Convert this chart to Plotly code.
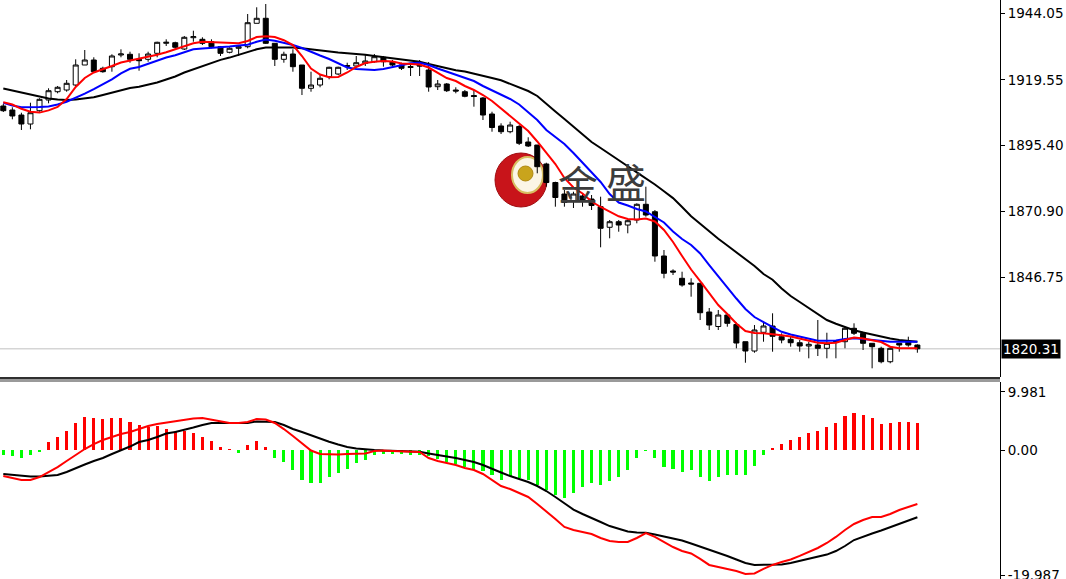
import plotly.graph_objects as go

# ---------------- data ----------------
bars = list(range(102))

opens = [
    1909.92, 1908.44, 1906.59, 1903.27, 1908.18, 1912.13, 1915.19, 1915.82, 1917.66, 1925.04,
    1926.89, 1923.83, 1924.42, 1928.73, 1928.99, 1927.15, 1927.15, 1929.36, 1933.05, 1933.27,
    1930.95, 1935.12, 1934.53, 1933.64, 1931.80, 1929.73, 1931.21, 1931.80, 1940.43, 1942.28,
    1933.05, 1927.15, 1929.10, 1925.04, 1916.45, 1917.66, 1920.73, 1921.72, 1924.49, 1924.68,
    1925.67, 1926.26, 1927.89, 1926.26, 1925.04, 1924.49, 1925.04, 1923.20, 1917.04, 1918.03,
    1915.82, 1915.19, 1913.79, 1912.87, 1906.96, 1902.54, 1900.43, 1902.35, 1896.63, 1895.52,
    1888.51, 1881.69, 1877.44, 1874.86, 1876.71, 1875.60, 1872.76, 1865.16, 1867.22, 1866.00,
    1867.85, 1873.64, 1870.91, 1854.57, 1849.03, 1846.34, 1844.60, 1844.49, 1833.90, 1828.55,
    1832.79, 1829.29, 1822.94, 1819.51, 1826.41, 1828.74, 1824.79, 1823.83, 1822.57, 1821.36,
    1821.72, 1820.51, 1822.65, 1822.94, 1827.89, 1826.04, 1822.35, 1820.51, 1815.56, 1822.35,
    1822.94, 1821.72]

highs = [
    1910.65, 1909.44, 1907.44, 1911.13, 1912.76, 1916.45, 1917.30, 1919.51, 1927.15, 1930.58,
    1927.89, 1924.42, 1928.99, 1930.84, 1929.95, 1929.36, 1929.95, 1933.64, 1934.53, 1933.64,
    1935.75, 1937.70, 1935.27, 1934.53, 1932.06, 1931.58, 1932.06, 1943.86, 1946.34, 1947.55,
    1933.05, 1929.95, 1930.84, 1925.04, 1922.57, 1921.35, 1924.42, 1924.42, 1925.89, 1928.37,
    1928.73, 1929.10, 1928.37, 1926.89, 1925.89, 1925.04, 1926.89, 1926.15, 1919.51, 1918.40,
    1916.82, 1915.82, 1915.82, 1913.24, 1907.81, 1903.53, 1904.12, 1902.90, 1898.37, 1895.52,
    1888.99, 1881.98, 1878.92, 1878.29, 1877.70, 1877.07, 1876.45, 1867.85, 1867.85, 1867.85,
    1874.01, 1880.14, 1871.54, 1856.78, 1849.66, 1848.77, 1846.34, 1844.49, 1835.38, 1834.64,
    1833.42, 1830.03, 1822.94, 1829.10, 1830.32, 1833.42, 1826.04, 1824.79, 1823.57, 1822.94,
    1830.95, 1826.26, 1823.20, 1828.48, 1829.73, 1826.63, 1822.35, 1821.10, 1821.10, 1822.35,
    1824.79, 1821.98]

lows = [
    1907.70, 1905.01, 1901.06, 1901.32, 1907.81, 1910.91, 1914.60, 1915.19, 1917.30, 1925.04,
    1922.20, 1922.20, 1922.57, 1927.89, 1925.89, 1922.94, 1926.26, 1927.89, 1932.06, 1930.58,
    1930.58, 1933.64, 1932.42, 1931.21, 1928.37, 1929.36, 1928.37, 1931.21, 1940.43, 1932.79,
    1924.68, 1925.89, 1922.57, 1913.97, 1915.19, 1916.82, 1919.77, 1921.35, 1923.20, 1924.42,
    1924.68, 1925.89, 1924.42, 1924.42, 1923.20, 1920.99, 1920.99, 1915.19, 1915.82, 1915.08,
    1914.60, 1913.13, 1909.66, 1904.75, 1900.43, 1899.58, 1899.84, 1895.52, 1894.79, 1885.08,
    1880.14, 1872.76, 1872.76, 1872.28, 1872.76, 1871.54, 1857.78, 1861.10, 1863.53, 1862.94,
    1866.63, 1869.07, 1852.46, 1846.34, 1847.55, 1843.24, 1839.55, 1830.95, 1827.26, 1827.26,
    1828.48, 1820.51, 1815.19, 1818.88, 1822.94, 1819.25, 1822.35, 1821.10, 1819.25, 1816.82,
    1817.67, 1816.82, 1816.82, 1820.51, 1825.41, 1819.88, 1813.13, 1814.97, 1814.97, 1819.25,
    1821.10, 1818.88]

closes = [
    1908.18, 1906.23, 1903.27, 1907.44, 1912.39, 1915.56, 1916.82, 1918.29, 1925.04, 1926.89,
    1922.57, 1922.57, 1928.37, 1929.10, 1927.15, 1926.63, 1929.10, 1933.42, 1933.42, 1931.58,
    1935.27, 1935.49, 1933.05, 1931.80, 1929.36, 1931.21, 1931.80, 1940.65, 1942.28, 1933.05,
    1927.15, 1928.99, 1924.42, 1916.45, 1917.66, 1920.14, 1924.20, 1924.20, 1924.86, 1925.89,
    1926.52, 1928.11, 1926.26, 1925.04, 1923.83, 1924.12, 1924.68, 1916.93, 1918.03, 1915.56,
    1915.45, 1913.50, 1913.42, 1906.59, 1901.98, 1900.43, 1902.90, 1896.15, 1895.16, 1887.52,
    1881.69, 1876.15, 1874.31, 1877.44, 1875.23, 1873.20, 1864.79, 1867.22, 1866.00, 1867.59,
    1873.64, 1869.69, 1854.57, 1848.18, 1848.66, 1843.86, 1844.23, 1833.64, 1829.10, 1832.79,
    1829.73, 1822.46, 1819.51, 1827.26, 1828.74, 1824.94, 1823.57, 1822.57, 1821.36, 1821.98,
    1820.51, 1822.35, 1823.02, 1827.89, 1826.04, 1822.35, 1821.10, 1815.56, 1820.51, 1821.72,
    1821.72, 1820.31]

ma_red = [
    1911.32, 1910.47, 1908.88, 1907.78, 1907.48, 1908.29, 1909.55, 1912.50, 1916.93, 1920.25,
    1922.28, 1923.38, 1924.68, 1925.97, 1926.63, 1927.26, 1928.00, 1928.85, 1929.73, 1930.84,
    1932.17, 1933.05, 1933.61, 1933.46, 1933.20, 1933.05, 1933.05, 1933.90, 1935.38, 1935.64,
    1935.38, 1934.20, 1932.42, 1928.37, 1923.75, 1921.54, 1920.51, 1920.62, 1922.28, 1924.31,
    1925.78, 1926.26, 1926.52, 1926.34, 1925.60, 1925.41, 1925.23, 1924.12, 1922.28, 1920.25,
    1919.14, 1917.30, 1915.82, 1913.97, 1911.76, 1908.99, 1906.23, 1903.64, 1900.69, 1896.82,
    1892.57, 1888.51, 1883.35, 1879.84, 1877.63, 1874.68, 1872.65, 1870.80, 1869.22, 1868.22,
    1868.03, 1868.40, 1867.30, 1864.16, 1859.73, 1854.57, 1849.58, 1845.34, 1840.91, 1836.48,
    1833.16, 1829.66, 1826.89, 1826.15, 1826.04, 1825.78, 1825.30, 1824.86, 1824.12, 1823.39,
    1822.54, 1822.35, 1822.54, 1823.57, 1824.49, 1824.12, 1823.39, 1822.83, 1821.10, 1820.51,
    1820.51, 1820.51]

ma_blue = [
    1911.10, 1910.10, 1909.44, 1909.44, 1909.55, 1909.77, 1910.47, 1911.50, 1912.87, 1914.45,
    1916.15, 1917.89, 1919.73, 1921.98, 1923.64, 1924.31, 1925.56, 1926.71, 1927.81, 1928.66,
    1929.66, 1930.84, 1931.10, 1931.28, 1931.47, 1931.87, 1932.20, 1932.54, 1933.64, 1934.45,
    1934.01, 1933.35, 1932.46, 1931.32, 1929.84, 1928.55, 1927.26, 1925.67, 1924.12, 1923.57,
    1923.38, 1923.20, 1923.57, 1924.31, 1925.12, 1925.71, 1925.89, 1925.04, 1923.75, 1922.65,
    1921.54, 1920.43, 1919.14, 1917.30, 1915.64, 1913.97, 1912.50, 1910.47, 1907.70, 1904.75,
    1901.06, 1898.48, 1895.89, 1892.57, 1888.88, 1885.19, 1881.87, 1877.44, 1874.31, 1873.20,
    1871.91, 1870.99, 1868.96, 1866.93, 1863.61, 1860.84, 1858.62, 1855.49, 1851.24, 1847.00,
    1843.13, 1838.88, 1835.01, 1832.06, 1830.21, 1828.55, 1826.60, 1825.60, 1824.79, 1824.01,
    1823.31, 1823.31, 1823.39, 1823.94, 1824.20, 1823.94, 1823.57, 1823.09, 1822.94, 1822.94,
    1822.94, 1822.94]

ma_black = [
    1916.37, 1915.64, 1914.90, 1914.05, 1913.38, 1912.68, 1912.28, 1912.13, 1912.28, 1912.65,
    1913.13, 1913.97, 1914.79, 1915.64, 1916.56, 1917.00, 1917.74, 1918.59, 1919.69, 1920.80,
    1922.28, 1923.46, 1924.79, 1925.86, 1926.93, 1927.78, 1928.81, 1929.69, 1930.84, 1931.50,
    1931.58, 1931.58, 1931.50, 1931.21, 1930.76, 1930.32, 1929.99, 1929.66, 1929.40, 1929.18,
    1928.85, 1928.40, 1927.96, 1927.48, 1927.04, 1926.63, 1926.26, 1925.41, 1924.57, 1923.75,
    1923.13, 1922.65, 1921.91, 1921.17, 1920.25, 1919.40, 1918.03, 1916.93, 1915.45, 1913.61,
    1910.65, 1907.89, 1905.12, 1902.24, 1899.58, 1896.63, 1894.42, 1892.09, 1889.88, 1887.67,
    1885.45, 1883.24, 1880.95, 1878.48, 1875.93, 1872.65, 1869.25, 1866.48, 1863.64, 1860.95,
    1858.44, 1855.97, 1853.46, 1850.88, 1847.92, 1845.82, 1842.61, 1839.81, 1837.59, 1835.38,
    1833.16, 1830.95, 1829.58, 1828.29, 1827.19, 1826.34, 1825.53, 1824.71, 1824.16, 1823.61,
    1823.27, 1822.94]

macd_hist = [
    -0.80, -0.88, -1.24, -0.80, -0.27, 1.15, 2.03, 2.83, 4.15, 4.95,
    4.86, 4.69, 4.86, 4.86, 4.33, 3.80, 3.54, 3.62, 3.18, 2.92,
    2.83, 2.65, 2.03, 1.37, 0.53, 0.09, -0.44, 0.80, 1.41, 0.53,
    -1.15, -1.77, -3.01, -4.51, -4.95, -4.95, -4.07, -3.45, -2.83, -2.03,
    -1.50, -0.80, -0.62, -0.62, -0.62, -0.71, -0.71, -0.88, -1.41, -1.86,
    -2.12, -2.56, -3.01, -3.18, -3.80, -4.51, -3.98, -4.33, -4.60, -5.30,
    -6.10, -6.90, -7.25, -6.54, -5.57, -4.95, -5.30, -4.69, -4.07, -3.01,
    -1.15, -0.09, -1.15, -2.56, -2.83, -3.27, -3.01, -4.07, -4.69, -4.07,
    -3.80, -3.80, -3.80, -2.39, -0.80, 0.27, 0.97, 1.50, 2.03, 2.56,
    2.83, 3.54, 4.15, 5.22, 5.57, 5.30, 4.86, 3.98, 4.07, 4.33,
    4.33, 4.15]

macd_fast = [
    -3.96, -4.26, -4.56, -4.56, -4.11, -3.35, -2.59, -1.67, -0.76, 0.15,
    0.91, 1.52, 1.98, 2.43, 2.74, 3.19, 3.65, 3.96, 4.18, 4.41,
    4.64, 4.79, 4.87, 4.64, 4.34, 4.11, 4.11, 4.26, 4.72, 4.64,
    4.11, 3.19, 2.13, 1.06, -0.08, -0.61, -0.68, -0.68, -0.61, -0.61,
    -0.53, -0.15, -0.08, -0.15, -0.23, -0.23, -0.30, -1.22, -1.67, -1.98,
    -2.28, -2.74, -3.04, -3.65, -4.56, -5.48, -5.93, -6.54, -7.15, -8.21,
    -9.43, -10.50, -11.71, -12.17, -12.47, -12.78, -13.39, -13.84, -13.99, -13.99,
    -13.39, -12.63, -13.23, -13.99, -14.76, -15.36, -15.74, -16.58, -17.49, -17.80,
    -18.10, -18.41, -18.86, -18.79, -18.10, -17.49, -17.04, -16.66, -16.12, -15.52,
    -14.91, -14.15, -13.23, -12.17, -11.26, -10.65, -10.19, -10.19, -9.74, -9.13,
    -8.67, -8.21]

macd_signal = [
    -3.65, -3.81, -3.96, -4.03, -4.03, -3.96, -3.81, -3.35, -2.74, -2.21,
    -1.67, -1.22, -0.61, -0.08, 0.53, 1.22, 1.52, 1.98, 2.51, 2.74,
    3.04, 3.42, 3.81, 4.11, 4.11, 4.11, 4.11, 4.11, 4.34, 4.34,
    4.26, 3.81, 3.20, 2.74, 2.21, 1.67, 1.26, 0.84, 0.46, 0.23,
    0.08, 0.00, -0.08, -0.15, -0.20, -0.23, -0.26, -0.53, -0.76, -0.91,
    -1.22, -1.52, -1.83, -2.28, -2.89, -3.42, -3.96, -4.41, -4.87, -5.48,
    -6.24, -7.15, -8.14, -9.06, -9.74, -10.40, -10.96, -11.57, -12.02, -12.40,
    -12.56, -12.59, -12.86, -13.17, -13.47, -13.77, -14.23, -14.69, -15.14, -15.60,
    -16.13, -16.67, -17.20, -17.50, -17.50, -17.50, -17.43, -17.20, -16.89, -16.59,
    -16.29, -15.91, -15.37, -14.61, -13.70, -13.17, -12.71, -12.25, -11.72, -11.19,
    -10.73, -10.24]

price_ticks = [1944.05, 1919.55, 1895.40, 1870.90, 1846.75]
price_tick_labels = ["1944.05", "1919.55", "1895.40", "1870.90", "1846.75"]
last_price = 1820.31
last_price_label = "1820.31"
macd_tick_pos = [8.83, 0.0, -19.03]
macd_tick_labels = ["9.981", "0.00", "-19.987"]
watermark = ["金", "盛"]

# ---------------- figure ----------------
W, H = 1066, 579
PLOT_W = 1000
MAIN_BOTTOM_PX = 377
SUB_TOP_PX = 382


def py(p):
    return (H - p) / H


def px(p):
    return p / PLOT_W


fig = go.Figure()

fig.add_trace(go.Candlestick(
    x=bars, open=opens, high=highs, low=lows, close=closes,
    increasing=dict(line=dict(color="black", width=1), fillcolor="white"),
    decreasing=dict(line=dict(color="black", width=1), fillcolor="black"),
    whiskerwidth=0, hoverinfo="skip", xaxis="x", yaxis="y", showlegend=False,
))
for vals, col in ((ma_black, "#000000"), (ma_blue, "#0000ff"), (ma_red, "#ff0000")):
    fig.add_trace(go.Scatter(x=bars, y=vals, mode="lines",
                             line=dict(color=col, width=2), hoverinfo="skip",
                             xaxis="x", yaxis="y", showlegend=False))

fig.add_trace(go.Bar(
    x=bars, y=macd_hist, width=0.34,
    marker=dict(color=["#ff0000" if v >= 0 else "#00ff00" for v in macd_hist], line=dict(width=0)),
    hoverinfo="skip", xaxis="x", yaxis="y2", showlegend=False,
))
fig.add_trace(go.Scatter(x=bars, y=macd_signal, mode="lines", line=dict(color="black", width=2),
                         hoverinfo="skip", xaxis="x", yaxis="y2", showlegend=False))
fig.add_trace(go.Scatter(x=bars, y=macd_fast, mode="lines", line=dict(color="#ff0000", width=2),
                         hoverinfo="skip", xaxis="x", yaxis="y2", showlegend=False))

tickfont = dict(family="DejaVu Sans", size=13.5, color="black")

fig.update_layout(
    width=W, height=H,
    margin=dict(l=0, r=W - PLOT_W, t=0, b=0, autoexpand=False),
    paper_bgcolor="white", plot_bgcolor="white",
    showlegend=False, hovermode=False,
    boxgap=0.2, boxgroupgap=0.31,
    bargap=0,
    xaxis=dict(domain=[0, 1], range=[-0.365, 110.13], anchor="y2",
               showticklabels=False, showgrid=False, zeroline=False, showline=False,
               ticks="", rangeslider=dict(visible=False), fixedrange=True),
    yaxis=dict(domain=[py(MAIN_BOTTOM_PX), 1], range=[1809.92, 1949.03], anchor="x",
               side="right", tickvals=price_ticks, ticktext=price_tick_labels,
               ticks="outside", ticklen=4, tickcolor="black", tickfont=tickfont,
               showgrid=False, zeroline=False, showline=True, linecolor="black",
               linewidth=1, fixedrange=True, automargin=False, ticklabeloverflow="allow"),
    yaxis2=dict(domain=[0, py(SUB_TOP_PX)], range=[-19.63, 10.35], anchor="x",
                side="right", tickvals=macd_tick_pos, ticktext=macd_tick_labels,
                ticks="outside", ticklen=4, tickcolor="black", tickfont=tickfont,
                showgrid=False, zeroline=False, showline=True, linecolor="black",
                linewidth=1, fixedrange=True, automargin=False, ticklabeloverflow="allow"),
)

shapes = [
    # current price line
    dict(type="line", xref="paper", yref="y", x0=0, x1=1, y0=last_price, y1=last_price,
         line=dict(color="#c0c0c0", width=1), layer="below"),
    # separator between panes
    dict(type="rect", xref="paper", yref="paper", x0=0, x1=1,
         y0=py(SUB_TOP_PX), y1=py(MAIN_BOTTOM_PX),
         fillcolor="#9a9a9a", line=dict(width=0), layer="above"),
    dict(type="line", xref="paper", yref="paper", x0=0, x1=1,
         y0=py(MAIN_BOTTOM_PX + 1), y1=py(MAIN_BOTTOM_PX + 1),
         line=dict(color="#303030", width=2), layer="above"),
    # watermark logo
    dict(type="circle", xref="paper", yref="paper", x0=px(495), x1=px(547), y0=py(207), y1=py(153),
         fillcolor="#c8141a", line=dict(color="#a00c10", width=1), layer="below"),
    dict(type="circle", xref="paper", yref="paper", x0=px(512), x1=px(543), y0=py(193), y1=py(157),
         fillcolor="#fbf6e6", line=dict(color="#d8bf62", width=2), layer="below"),
    dict(type="circle", xref="paper", yref="paper", x0=px(518), x1=px(533), y0=py(181), y1=py(166),
         fillcolor="#c9a41c", line=dict(color="#b08a10", width=1), layer="below"),
]
fig.update_layout(shapes=shapes)

annotations = [
    dict(xref="paper", yref="y", x=1, y=last_price, xanchor="left", yanchor="middle",
         xshift=1, text=last_price_label, showarrow=False, bgcolor="black",
         borderpad=1, font=dict(family="DejaVu Sans", size=13.5, color="white")),
    dict(xref="paper", yref="paper", x=px(578), y=py(183), text=watermark[0], showarrow=False,
         xanchor="center", yanchor="middle",
         font=dict(family="Noto Sans CJK SC", size=40, color="#3c3c3c")),
    dict(xref="paper", yref="paper", x=px(626), y=py(181), text=watermark[1], showarrow=False,
         xanchor="center", yanchor="middle",
         font=dict(family="Noto Sans CJK SC", size=40, color="#3c3c3c")),
]
fig.update_layout(annotations=annotations)

fig.write_html(
    "out.html",
    config={"displayModeBar": False, "staticPlot": True},
    post_script="document.body.style.margin='0';document.body.style.padding='0';",
)
